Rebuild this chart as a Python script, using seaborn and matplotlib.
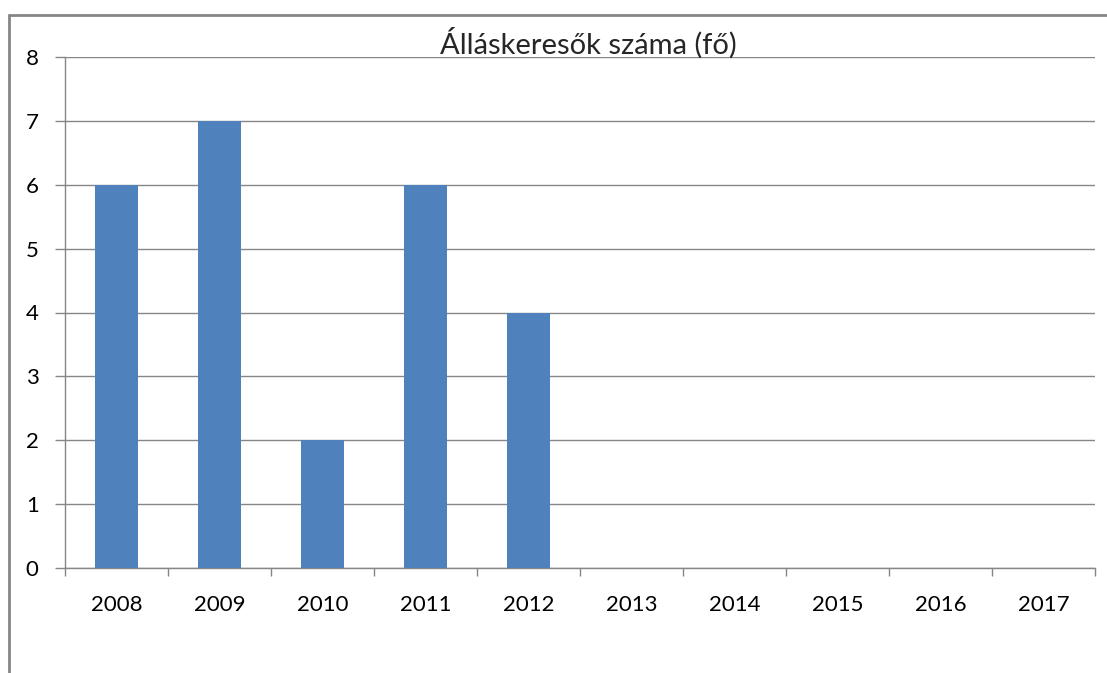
import matplotlib
matplotlib.use("Agg")
import matplotlib.pyplot as plt
from matplotlib.lines import Line2D
from matplotlib.ticker import FixedLocator
import seaborn as sns
import pandas as pd

years = ["2008", "2009", "2010", "2011", "2012", "2013", "2014", "2015", "2016", "2017"]
job_seekers = [6, 7, 2, 6, 4, 0, 0, 0, 0, 0]
y_ticks = [0, 1, 2, 3, 4, 5, 6, 7, 8]
title = "Álláskeresők száma (fő)"

sns.set_style("white")
plt.rcParams["font.family"] = ["Lato", "DejaVu Sans"]

df = pd.DataFrame({"year": years, "count": job_seekers})
grey = "#868686"

fig = plt.figure(figsize=(11.07, 6.73), dpi=100)
ax = fig.add_axes([65 / 1107, 105 / 673, 1030 / 1107, 511 / 673])

sns.barplot(data=df, x="year", y="count", color="#4F81BD", saturation=1,
            width=0.41, edgecolor="none", ax=ax, zorder=3)

ax.set_ylim(0, 8)
ax.set_xlim(-0.5, len(years) - 0.5)
ax.set_yticks(y_ticks)
ax.yaxis.grid(True, color=grey, linewidth=1)
ax.set_axisbelow(True)
ax.set_xlabel("")
ax.set_ylabel("")

for side in ["top", "right"]:
    ax.spines[side].set_visible(False)
for side in ["left", "bottom"]:
    ax.spines[side].set_color(grey)
    ax.spines[side].set_linewidth(1)

ax.tick_params(axis="y", left=True, length=7, color=grey, width=1,
               labelsize=16, pad=12, labelcolor="#000000")
# x ticks sit on the category boundaries, labels stay centred
ax.xaxis.set_minor_locator(FixedLocator([i - 0.5 for i in range(len(years) + 1)]))
ax.tick_params(axis="x", which="major", bottom=False, labelsize=16, pad=16,
               labelcolor="#000000")
ax.tick_params(axis="x", which="minor", bottom=True, length=6, color=grey, width=1)

fig.text(588 / 1107, 1 - 43 / 673, title, ha="center", va="center", fontsize=21)

# chart-area border (only left and top visible in the crop)
fig.add_artist(Line2D([9 / 1107, 9 / 1107], [0, 1 - 15 / 673], color=grey,
                      linewidth=2, transform=fig.transFigure))
fig.add_artist(Line2D([9 / 1107, 1], [1 - 15 / 673, 1 - 15 / 673], color=grey,
                      linewidth=2, transform=fig.transFigure))

fig.savefig("out.png", dpi=100)
